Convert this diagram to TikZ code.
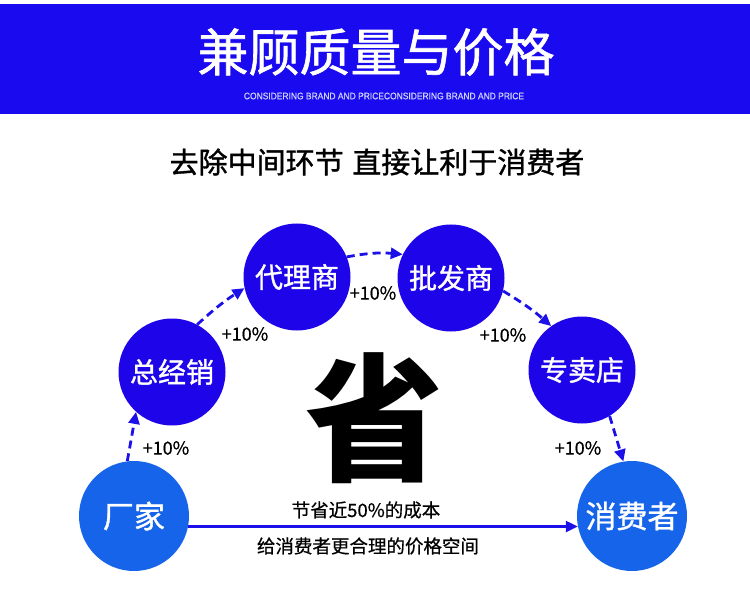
\documentclass[tikz,border=0pt]{standalone}
\usepackage{fontspec}
\setmainfont{Noto Sans CJK SC}
\newfontfamily\cjkmed[FakeBold=1.2]{Noto Sans CJK SC}
\newfontfamily\cjksemi[FakeBold=0.6]{Noto Sans CJK SC}
\newfontfamily\latinsf[FakeBold=0.6]{Liberation Sans}
\usetikzlibrary{arrows.meta}
\definecolor{banner}{RGB}{26,10,240}
\definecolor{deepblue}{RGB}{30,4,232}
\definecolor{lightblue}{RGB}{22,100,234}
\definecolor{arrowblue}{RGB}{28,16,232}
\definecolor{subtxt}{RGB}{205,210,255}
\tikzset{
  arcnode/.style={circle,fill=deepblue,text=white,minimum size=107pt,inner sep=0pt,font=\cjkmed\fontsize{28}{28}\selectfont},
  endnode/.style={circle,fill=lightblue,text=white,minimum size=110pt,inner sep=0pt,font=\cjkmed\fontsize{31}{31}\selectfont},
  dasharrow/.style={draw=arrowblue,line width=2.8pt,dash pattern=on 8pt off 5pt,-{Triangle[length=12pt,width=11pt]}},
  solidarrow/.style={draw=arrowblue,line width=2.4pt,-{Triangle[length=12pt,width=11pt]}},
  pct/.style={font=\cjksemi\fontsize{18}{18}\selectfont,text=black,inner sep=0pt},
  capt/.style={font=\cjksemi\fontsize{18.5}{18.5}\selectfont,text=black,inner sep=0pt}
}
\begin{document}
\begin{tikzpicture}[x=1pt,y=-1pt]
\useasboundingbox (0,0) rectangle (750,604);
\fill[white] (0,0) rectangle (750,604);
\fill[banner] (0,4) rectangle (750,114);
\node[text=white,inner sep=0pt,font=\cjkmed\fontsize{51}{51}\selectfont] (title) at (376,52) {兼顾质量与价格};
\node[text=subtxt,inner sep=0pt,font=\latinsf\fontsize{9.4}{10}\selectfont] (sub) at (384,96) {\scalebox{0.9}[1]{CONSIDERING BRAND AND PRICECONSIDERING BRAND AND PRICE}};
\node[text=black,inner sep=0pt,font=\cjkmed\fontsize{29}{29}\selectfont] (head) at (377,162) {去除中间环节\hspace{0.3em}直接让利于消费者};

\node[inner sep=0pt,font=\bfseries\fontsize{138}{138}\selectfont] (sheng) at (374,418) {省};

\node[endnode] (cj) at (134,516) {厂家};
\node[arcnode] (zjx) at (172,372) {总经销};
\node[arcnode] (dls) at (297,277) {代理商};
\node[arcnode] (pfs) at (451,278) {批发商};
\node[arcnode] (zmd) at (582,370) {专卖店};
\node[endnode] (xfz) at (632,516) {消费者};

\draw[dasharrow] (cj.97) -- (zjx.-132);
\draw[dasharrow] (zjx.62) to[bend left=5] (dls.-168);
\draw[dasharrow] (dls.22) to[bend left=8] (pfs.154);
\draw[dasharrow] (pfs.-14) to[bend left=5] (zmd.125);
\draw[dasharrow] (zmd.-59) -- (xfz.99);
\draw[solidarrow] (cj.-11) -- (xfz.-169);

\node[pct] (p1) at (166,448) {+10\%};
\node[pct] (p2) at (245,334) {+10\%};
\node[pct] (p3) at (373,293) {+10\%};
\node[pct] (p4) at (503,335) {+10\%};
\node[pct] (p5) at (578,448) {+10\%};

\node[capt] (c1) at (366,510) {节省近50\%的成本};
\node[capt] (c2) at (368,546) {给消费者更合理的价格空间};
\end{tikzpicture}
\end{document}
